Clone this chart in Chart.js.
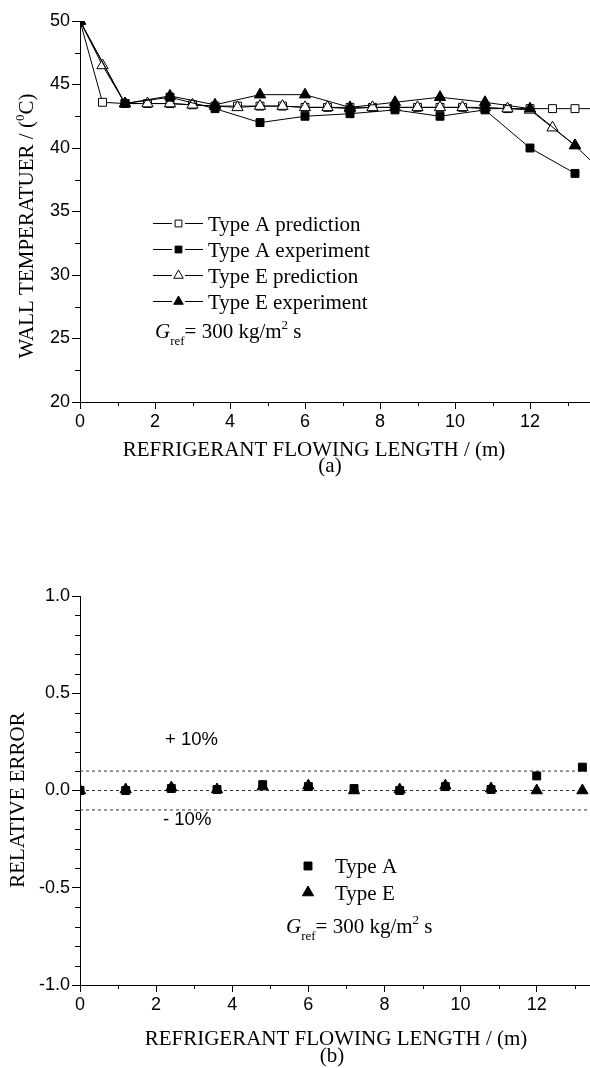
<!DOCTYPE html>
<html>
<head>
<meta charset="utf-8">
<script src="https://cdn.jsdelivr.net/npm/chart.js@4.4.1/dist/chart.umd.min.js"></script>
<style>
html,body{margin:0;padding:0;background:#fff;}
#wrap{position:relative;width:590px;height:1068px;overflow:hidden;background:#fff;}
#c1{position:absolute;left:0;top:0;}
#c2{position:absolute;left:0;top:520px;}
</style>
</head>
<body>
<div id="wrap">
<canvas id="c1" width="590" height="520"></canvas>
<canvas id="c2" width="590" height="548"></canvas>
</div>
<script>
// ---------- DATA ----------
const lengthPred = [0,0.6,1.2,1.8,2.4,3.0,3.6,4.2,4.8,5.4,6.0,6.6,7.2,7.8,8.4,9.0,9.6,10.2,10.8,11.4,12.0,12.6,13.2,13.8];
const typeAPred  = [50,43.6,43.5,43.5,43.5,43.4,43.3,43.3,43.3,43.3,43.2,43.2,43.2,43.2,43.2,43.2,43.2,43.2,43.1,43.1,43.1,43.1,43.1,43.1];
const typeEPred  = [50,46.5,43.5,43.5,43.5,43.4,43.3,43.2,43.3,43.3,43.2,43.2,43.1,43.2,43.2,43.2,43.2,43.2,43.2,43.1,43.0,41.6,40.2,38.5];
const lengthExp  = [0,1.2,2.4,3.6,4.8,6.0,7.2,8.4,9.6,10.8,12.0,13.2];
const typeAExp   = [50,43.5,44.0,43.1,42.0,42.5,42.7,43.0,42.5,43.0,40.0,38.0];
const typeEExp   = [50,43.5,44.1,43.4,44.2,44.2,43.2,43.6,44.0,43.6,43.1,40.2];

const lengthErr  = [0,1.2,2.4,3.6,4.8,6.0,7.2,8.4,9.6,10.8,12.0,13.2];
const relErrA    = [0.0,0.0,0.01,0.005,0.03,0.02,0.01,0.0,0.02,0.005,0.075,0.12];
const relErrE    = [0.0,0.005,0.015,0.005,0.02,0.025,0.0,0.005,0.025,0.01,0.0,0.0];
const errorBands = [0.1, 0.0, -0.1];

const tempTicks   = [20,25,30,35,40,45,50];
const lengthTicks = [0,2,4,6,8,10,12];
const errorTicks  = [-1.0,-0.5,0.0,0.5,1.0];

const lengthMaxA = 13.6, lengthMaxB = 13.4;

// ---------- STYLE ----------
const SERIF = '"Liberation Serif","Times New Roman",serif';
const SANS  = '"Liberation Sans",Arial,sans-serif';
const pts = (xs, ys) => xs.map((x, i) => ({x: x, y: ys[i]}));

function rich(ctx, x, y, parts, align) {
  let w = 0;
  parts.forEach(p => {
    ctx.font = (p.italic ? 'italic ' : '') + p.size + 'px ' + (p.family || SERIF);
    p.w = ctx.measureText(p.t).width; w += p.w;
  });
  let cx = align === 'center' ? x - w / 2 : x;
  ctx.textAlign = 'left'; ctx.textBaseline = 'alphabetic'; ctx.fillStyle = '#000';
  parts.forEach(p => {
    ctx.font = (p.italic ? 'italic ' : '') + p.size + 'px ' + (p.family || SERIF);
    ctx.fillText(p.t, cx, y + (p.dy || 0)); cx += p.w;
  });
}
const gref = [
  {t:'G', size:21, italic:true},
  {t:'ref', size:13, dy:7},
  {t:'= 300 kg/m', size:21},
  {t:'2', size:13, dy:-9},
  {t:' s', size:21}
];

function minorTicks(chart, id, values, len) {
  const s = chart.scales[id], ctx = chart.ctx;
  ctx.save(); ctx.strokeStyle = '#000'; ctx.lineWidth = 1; ctx.beginPath();
  values.forEach(v => {
    if (s.isHorizontal()) {
      const x = Math.round(s.getPixelForValue(v)) + 0.5;
      ctx.moveTo(x, s.top); ctx.lineTo(x, s.top + len);
    } else {
      const y = Math.round(s.getPixelForValue(v)) + 0.5;
      ctx.moveTo(s.right - len, y); ctx.lineTo(s.right, y);
    }
  });
  ctx.stroke(); ctx.restore();
}
const lengthMinor = lengthTicks.map(v => v + 1);
const tempMinor = tempTicks.slice(0, -1).map(v => v + 2.5);
const errorMinor = [];
errorTicks.slice(0, -1).forEach(v => { for (let k = 1; k < 5; k++) errorMinor.push(+(v + k * 0.1).toFixed(2)); });

function legendMarker(ctx, ds, x, y, r) {
  ctx.save();
  ctx.fillStyle = ds.pointBackgroundColor; ctx.strokeStyle = ds.pointBorderColor;
  ctx.lineWidth = ds.pointBorderWidth;
  Chart.helpers.drawPoint(ctx, {pointStyle: ds.pointStyle, radius: r, borderWidth: ds.pointBorderWidth, rotation: 0}, x, y);
  ctx.restore();
}

function axisCfg(min, max, ticks, fmt, horiz, size) {
  return {
    type: 'linear', min: min, max: max,
    afterBuildTicks: s => { s.ticks = ticks.map(v => ({value: v})); },
    afterFit: s => {
      if (horiz) { s.height = size; s.paddingLeft = 0; s.paddingRight = 0; }
      else { s.width = size; s.paddingTop = 0; s.paddingBottom = 0; }
    },
    grid: {display: true, drawOnChartArea: false, drawTicks: true, tickLength: horiz ? 7 : 8, color: '#000', lineWidth: 1},
    border: {display: true, color: '#000', width: 1},
    ticks: {font: {family: SANS, size: 18}, color: '#000', padding: 2, autoSkip: false, maxRotation: 0, callback: fmt}
  };
}

// ---------- TOP CHART ----------
const topText = {
  id: 'topText',
  afterDraw(chart) {
    const ctx = chart.ctx;
    minorTicks(chart, 'x', lengthMinor, 4);
    minorTicks(chart, 'y', tempMinor, 5);
    ctx.save();
    rich(ctx, 314, 456, [{t:'REFRIGERANT FLOWING LENGTH / (m)', size:21}], 'center');
    rich(ctx, 330, 472, [{t:'(a)', size:21}], 'center');
    ctx.translate(33, 226); ctx.rotate(-Math.PI / 2);
    rich(ctx, 0, 0, [{t:'WALL TEMPERATUER / (', size:21}, {t:'0', size:13, dy:-9}, {t:'C)', size:21}], 'center');
    ctx.restore();
    // legend
    ctx.save();
    chart.data.datasets.forEach((ds, i) => {
      const ly = 223.5 + i * 26;
      ctx.strokeStyle = ds.borderColor; ctx.lineWidth = 1; ctx.beginPath();
      ctx.moveTo(153, ly); ctx.lineTo(172, ly); ctx.moveTo(185, ly); ctx.lineTo(203, ly); ctx.stroke();
      legendMarker(ctx, ds, 178.5, ly, ds.pointStyle === 'rect' ? 4.8 : 5.5);
      rich(ctx, 208, 230.7 + i * 26, [{t: ds.label, size:21}], 'left');
    });
    rich(ctx, 155, 338, gref, 'left');
    ctx.restore();
  }
};

new Chart(document.getElementById('c1'), {
  type: 'line',
  data: {datasets: [
    {label:'Type A prediction', data: pts(lengthPred, typeAPred), borderColor:'#000', borderWidth:1, tension:0,
     pointStyle:'rect', pointRadius:5.6, pointBackgroundColor:'#fff', pointBorderColor:'#000', pointBorderWidth:1, order:3},
    {label:'Type A experiment', data: pts(lengthExp, typeAExp), borderColor:'#000', borderWidth:1, tension:0,
     pointStyle:'rect', pointRadius:5.6, pointBackgroundColor:'#000', pointBorderColor:'#000', pointBorderWidth:1, order:0},
    {label:'Type E prediction', data: pts(lengthPred, typeEPred), borderColor:'#000', borderWidth:1, tension:0,
     pointStyle:'triangle', pointRadius:6.5, pointBackgroundColor:'#fff', pointBorderColor:'#000', pointBorderWidth:1, order:2},
    {label:'Type E experiment', data: pts(lengthExp, typeEExp), borderColor:'#000', borderWidth:1, tension:0,
     pointStyle:'triangle', pointRadius:6.5, pointBackgroundColor:'#000', pointBorderColor:'#000', pointBorderWidth:1, order:1}
  ]},
  options: {
    responsive: false, animation: false, devicePixelRatio: 1,
    layout: {autoPadding: false, padding: {top: 21, left: 0, right: 0, bottom: 0}},
    plugins: {legend: {display: false}, tooltip: {enabled: false}},
    scales: {
      x: axisCfg(0, lengthMaxA, lengthTicks, v => String(v), true, 118),
      y: axisCfg(20, 50, tempTicks, v => String(v), false, 80)
    }
  },
  plugins: [topText]
});

// ---------- BOTTOM CHART ----------
const botText = {
  id: 'botText',
  afterDraw(chart) {
    const ctx = chart.ctx;
    minorTicks(chart, 'x', lengthMinor, 4);
    minorTicks(chart, 'y', errorMinor, 5);
    ctx.save();
    rich(ctx, 165, 225, [{t:'+ 10%', size:18.5, family:SANS}], 'left');
    rich(ctx, 163, 305, [{t:'- 10%', size:18.5, family:SANS}], 'left');
    rich(ctx, 336, 525, [{t:'REFRIGERANT FLOWING LENGTH / (m)', size:21}], 'center');
    rich(ctx, 332, 542, [{t:'(b)', size:21}], 'center');
    ctx.translate(24, 280); ctx.rotate(-Math.PI / 2);
    rich(ctx, 0, 0, [{t:'RELATIVE ERROR', size:21}], 'center');
    ctx.restore();
    ctx.save();
    chart.data.datasets.filter(d => !d.isBand).forEach((ds, i) => {
      const ly = 346 + i * 26.5;
      legendMarker(ctx, ds, 308, ly, ds.pointRadius);
      rich(ctx, 335, 353 + i * 26.5, [{t: ds.label, size:21}], 'left');
    });
    rich(ctx, 286, 413, gref, 'left');
    ctx.restore();
  }
};

const bandSets = errorBands.map(v => ({
  isBand: true, label: 'band', data: [{x: 0, y: v}, {x: lengthMaxB, y: v}],
  borderColor: '#333', borderWidth: 1, borderDash: [3, 3], pointRadius: 0, order: 5
}));

new Chart(document.getElementById('c2'), {
  type: 'line',
  data: {datasets: [
    {label:'Type A', data: pts(lengthErr, relErrA), showLine:false,
     pointStyle:'rect', pointRadius:5.6, pointBackgroundColor:'#000', pointBorderColor:'#000', pointBorderWidth:1, order:0},
    {label:'Type E', data: pts(lengthErr, relErrE), showLine:false,
     pointStyle:'triangle', pointRadius:6.5, pointBackgroundColor:'#000', pointBorderColor:'#000', pointBorderWidth:1, order:1}
  ].concat(bandSets)},
  options: {
    responsive: false, animation: false, devicePixelRatio: 1,
    layout: {autoPadding: false, padding: {top: 76, left: 0, right: 0, bottom: 0}},
    plugins: {legend: {display: false}, tooltip: {enabled: false}},
    scales: {
      x: axisCfg(0, lengthMaxB, lengthTicks, v => String(v), true, 83),
      y: axisCfg(-1, 1, errorTicks, v => v.toFixed(1), false, 80)
    }
  },
  plugins: [botText]
});
</script>
</body>
</html>
